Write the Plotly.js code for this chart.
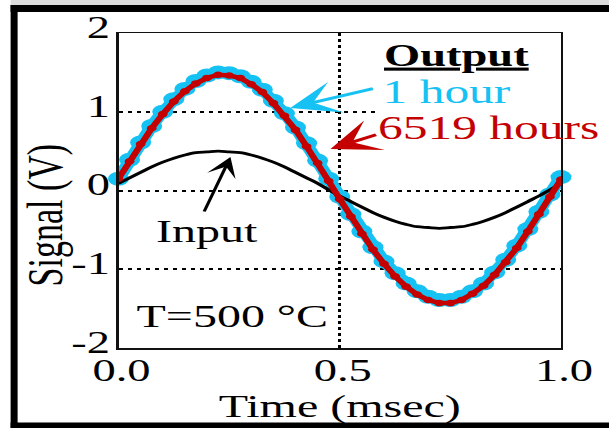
<!DOCTYPE html>
<html>
<head>
<meta charset="utf-8">
<script src="https://cdn.plot.ly/plotly-3.0.1.min.js"></script>
<style>
  html, body { margin: 0; padding: 0; background: #ffffff; overflow: hidden; }
  #wrap { width: 609px; height: 428px; overflow: hidden; position: relative; }
  #chart { width: 406px; height: 428px; transform: scaleX(1.5); transform-origin: 0 0; position: absolute; left: 0; top: 0; }
</style>
</head>
<body>
<div id="wrap"><div id="chart"></div></div>
<script>
// ---- data ----
var timeMs = [0,0.025,0.05,0.075,0.1,0.125,0.15,0.175,0.2,0.225,0.25,0.275,0.3,0.325,0.35,0.375,0.4,0.425,0.45,0.475,0.5,0.525,0.55,0.575,0.6,0.625,0.65,0.675,0.7,0.725,0.75,0.775,0.8,0.825,0.85,0.875,0.9,0.925,0.95,0.975,1.0];
var inputSignal = [0.09,0.16,0.23,0.30,0.36,0.41,0.45,0.48,0.49,0.50,0.49,0.48,0.45,0.41,0.36,0.30,0.23,0.16,0.09,0.01,-0.07,-0.14,-0.21,-0.28,-0.34,-0.39,-0.43,-0.46,-0.47,-0.48,-0.47,-0.46,-0.43,-0.39,-0.34,-0.28,-0.21,-0.14,-0.07,0.01,0.09];
var output1h = [0.15,0.39,0.61,0.82,1.00,1.16,1.29,1.39,1.46,1.50,1.49,1.45,1.38,1.28,1.14,0.98,0.80,0.60,0.38,0.15,-0.08,-0.30,-0.52,-0.72,-0.90,-1.05,-1.18,-1.28,-1.35,-1.39,-1.39,-1.35,-1.28,-1.18,-1.04,-0.88,-0.70,-0.49,-0.27,-0.05,0.17];
var output6519h = [0.15,0.37,0.59,0.79,0.97,1.13,1.26,1.36,1.43,1.47,1.46,1.43,1.35,1.25,1.11,0.95,0.77,0.56,0.35,0.12,-0.11,-0.33,-0.55,-0.75,-0.93,-1.09,-1.22,-1.32,-1.39,-1.43,-1.43,-1.39,-1.31,-1.21,-1.07,-0.91,-0.73,-0.52,-0.30,-0.08,0.14];
var xTickVals = [0, 0.5, 1];
var xTickText = ['0.0', '0.5', '1.0'];
var yTickVals = [-2, -1, 0, 1, 2];
var yTickText = ['-2', '-1', '0', '1', '2'];

var CYAN = '#16C2F3';
var RED = '#C40000';
var FONT = 'Liberation Serif, Times New Roman, serif';

var traces = [
  { x: timeMs, y: output1h, type: 'scatter', mode: 'lines+markers', name: '1 hour',
    line: { color: CYAN, width: 9 }, marker: { color: CYAN, size: 14 }, cliponaxis: false },
  { x: timeMs, y: inputSignal, type: 'scatter', mode: 'lines', name: 'Input',
    line: { color: '#000000', width: 2.8, shape: 'spline' } },
  { x: timeMs, y: output6519h, type: 'scatter', mode: 'lines+markers', name: '6519 hours',
    line: { color: RED, width: 4.5 }, marker: { color: RED, size: 6.5 } }
];

var axisCommon = {
  showgrid: true, gridcolor: '#000000', griddash: 'dot', gridwidth: 2,
  showline: true, linecolor: '#111111', linewidth: 1.5, mirror: true,
  ticks: '', zeroline: false, fixedrange: true,
  tickfont: { family: FONT, size: 31, color: '#000000' }
};

var layout = {
  width: 406, height: 428,
  margin: { l: 78.67, r: 32, t: 33, b: 80, pad: 0 },
  paper_bgcolor: '#ffffff', plot_bgcolor: '#ffffff',
  showlegend: false,
  font: { family: FONT, color: '#000000' },
  xaxis: Object.assign({}, axisCommon, {
    range: [0, 1], tickmode: 'array', tickvals: xTickVals, ticktext: xTickText,
    ticklabelstandoff: -6, ticklabelshift: 2,
    title: { text: 'Time (msec)', font: { family: FONT, size: 32, color: '#000000' }, standoff: 0 }
  }),
  yaxis: Object.assign({}, axisCommon, {
    range: [-2, 2], tickmode: 'array', tickvals: yTickVals, ticktext: yTickText,
    ticklabelshift: -6, ticklabelstandoff: -2
  }),
  shapes: [
    // light grey strip above the outer frame
    { type: 'rect', xref: 'paper', yref: 'paper', x0: -0.2438, x1: 1.12, y0: 1.089, y1: 1.11,
      fillcolor: '#dcdcdc', line: { width: 0 }, layer: 'above' },
    // outer thick frame: top, left, bottom
    { type: 'rect', xref: 'paper', yref: 'paper', x0: -0.2438, x1: 1.12, y0: 1.0667, y1: 1.0889,
      fillcolor: '#000000', line: { width: 0 }, layer: 'above' },
    { type: 'rect', xref: 'paper', yref: 'paper', x0: -0.2438, x1: -0.228, y0: -0.27, y1: 1.0889,
      fillcolor: '#000000', line: { width: 0 }, layer: 'above' },
    { type: 'rect', xref: 'paper', yref: 'paper', x0: -0.2438, x1: 1.12, y0: -0.27, y1: -0.2365,
      fillcolor: '#000000', line: { width: 0 }, layer: 'above' },
    // white box behind the output legend text
    { type: 'rect', xref: 'x', yref: 'y', x0: 0.585, x1: 1.095, y0: 0.55, y1: 1.91,
      fillcolor: '#ffffff', line: { width: 0 }, layer: 'above' }
  ],
  annotations: [
    { xref: 'paper', yref: 'paper', x: -0.165, y: 0.422, text: 'Signal (V)', textangle: -90,
      showarrow: false, font: { family: FONT, size: 34, color: '#000000' }, xanchor: 'center', yanchor: 'middle' },
    { xref: 'x', yref: 'y', x: 0.765, y: 1.72, text: '<b><u>Output</u></b>', showarrow: false,
      font: { family: FONT, size: 31, color: '#000000' }, xanchor: 'center', yanchor: 'middle' },
    { xref: 'x', yref: 'y', x: 0.742, y: 1.25, text: '1 hour', showarrow: false,
      font: { family: FONT, size: 33, color: CYAN }, xanchor: 'center', yanchor: 'middle' },
    { xref: 'x', yref: 'y', x: 0.836, y: 0.794, text: '6519 hours', showarrow: false,
      font: { family: FONT, size: 33, color: RED }, xanchor: 'center', yanchor: 'middle' },
    { xref: 'x', yref: 'y', x: 0.201, y: -0.514, text: 'Input', showarrow: false,
      font: { family: FONT, size: 32, color: '#000000' }, xanchor: 'center', yanchor: 'middle' },
    { xref: 'x', yref: 'y', x: 0.257, y: -1.59, text: 'T=500 °C', showarrow: false,
      font: { family: FONT, size: 32, color: '#000000' }, xanchor: 'center', yanchor: 'middle' },
    // arrows
    { xref: 'x', yref: 'y', axref: 'x', ayref: 'y', x: 0.388, y: 1.048, ax: 0.580, ay: 1.30, text: '',
      showarrow: true, arrowhead: 3, arrowsize: 1.8, arrowwidth: 3, arrowcolor: CYAN, standoff: 0 },
    { xref: 'x', yref: 'y', axref: 'x', ayref: 'y', x: 0.479, y: 0.527, ax: 0.587, ay: 0.717, text: '',
      showarrow: true, arrowhead: 3, arrowsize: 1.8, arrowwidth: 3, arrowcolor: RED, standoff: 0 },
    { xref: 'x', yref: 'y', axref: 'x', ayref: 'y', x: 0.253, y: 0.425, ax: 0.192, ay: -0.286, text: '',
      showarrow: true, arrowhead: 3, arrowsize: 1.5, arrowwidth: 2.2, arrowcolor: '#000000', standoff: 0 }
  ]
};

Plotly.newPlot('chart', traces, layout, { displayModeBar: false, staticPlot: true });
</script>
</body>
</html>
